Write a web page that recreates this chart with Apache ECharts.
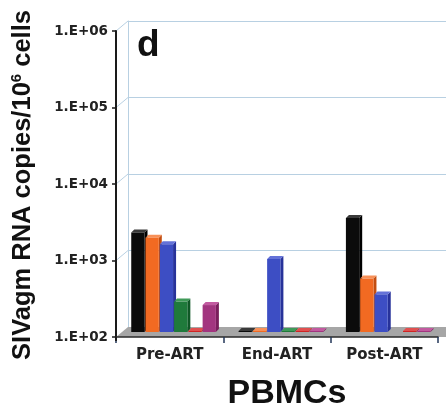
<!DOCTYPE html>
<html>
<head>
<meta charset="utf-8">
<script src="https://cdn.jsdelivr.net/npm/echarts@6/dist/echarts.min.js"></script>
<style>
html,body{margin:0;padding:0;background:#fff;}
#c{width:446px;height:415px;}
</style>
</head>
<body>
<div id="c"></div>
<script>
// ---- data ----
const categories = ['Pre-ART', 'End-ART', 'Post-ART'];
const seriesBlack   = [2000, 100, 3100];
const seriesOrange  = [1700, 100, 500];
const seriesBlue    = [1400, 900, 310];
const seriesGreen   = [250, 100, null];
const seriesRed     = [100, 100, 100];
const seriesMagenta = [225, 100, 100];
const yTickLabels = ['1.E+02', '1.E+03', '1.E+04', '1.E+05', '1.E+06'];
const yMin = 100, yMax = 1000000;

const palette = [
  {front:'#0b0b0b', top:'#3a3a3a', side:'#000000'},
  {front:'#f26a22', top:'#f79058', side:'#c24d10'},
  {front:'#3d4ec4', top:'#6472d8', side:'#27329a'},
  {front:'#1f7a3b', top:'#3f9a58', side:'#0f5826'},
  {front:'#cf2424', top:'#e05050', side:'#a01515'},
  {front:'#a2357f', top:'#c25aa0', side:'#7a1e5c'}
];
const allSeries = [seriesBlack, seriesOrange, seriesBlue, seriesGreen, seriesRed, seriesMagenta];

const chart = echarts.init(document.getElementById('c'));

function makeRender(slot) {
  const col = palette[slot];
  return function (params, api) {
    const cat = api.value(0), v = api.value(1);
    if (v == null || isNaN(v)) return;
    const p0 = api.coord([0, yMin]), p1 = api.coord([1, yMin]);
    const band = p1[0] - p0[0];
    const base = api.coord([cat, yMin]);
    const top = api.coord([cat, v]);
    const depthDx = band * 0.056, depthDy = -5;
    const pitch = band * 0.133;
    const w = pitch * 0.93;
    const d = 3;
    const x0 = base[0] + depthDx + (slot - 3) * pitch - band * 0.015;
    const yBase = base[1] + depthDy;
    let yTop = top[1] + depthDy;
    if (yBase - yTop < 1) yTop = yBase - 1;
    return {
      type: 'group',
      children: [
        {type:'polygon', shape:{points:[[x0+w,yTop],[x0+w+d,yTop-d],[x0+w+d,yBase-d],[x0+w,yBase]]}, style:{fill:col.side}},
        {type:'polygon', shape:{points:[[x0,yTop],[x0+d,yTop-d],[x0+w+d,yTop-d],[x0+w,yTop]]}, style:{fill:col.top}},
        {type:'rect', shape:{x:x0, y:yTop, width:w, height:yBase-yTop}, style:{fill:col.front}}
      ]
    };
  };
}

const labelFmt = function (v) {
  const e = Math.round(Math.log10(v)) - 2;
  return yTickLabels[e] || '';
};

const option = {
  animation: false,
  grid: [
    {left: 116, right: 8, top: 31, bottom: 78},
    {left: 128, right: 0, top: 21, bottom: 88}
  ],
  xAxis: [
    {type:'category', gridIndex:0, data: categories, z: 4,
     axisLine:{show:true, lineStyle:{color:'#2b2b2b', width:1.5}},
     axisTick:{show:true, length:6, lineStyle:{color:'#23375a', width:1.5}},
     axisLabel:{fontFamily:'DejaVu Sans', fontWeight:'bold', fontSize:15, color:'#222', margin:11},
     splitLine:{show:false}},
    {type:'value', gridIndex:1, show:false, min:0, max:1}
  ],
  yAxis: [
    {type:'log', gridIndex:0, logBase:10, min:yMin, max:yMax, interval:1, z: 4,
     axisLine:{show:true, lineStyle:{color:'#1a1a1a', width:2}},
     axisTick:{show:true, length:4, lineStyle:{color:'#1a1a1a', width:1.5}},
     axisLabel:{formatter: labelFmt, fontFamily:'DejaVu Sans', fontWeight:'bold', fontSize:13.5, color:'#222', margin:8},
     splitLine:{show:false}},
    {type:'log', gridIndex:1, logBase:10, min:yMin, max:yMax, interval:1, z: 0,
     axisLine:{show:true, lineStyle:{color:'#b8d0e2', width:1}},
     axisTick:{show:false}, axisLabel:{show:false},
     splitLine:{show:true, lineStyle:{color:'#b8d0e2', width:1}}}
  ],
  series: allSeries.map(function (arr, i) {
    return {
      type: 'custom', xAxisIndex: 0, yAxisIndex: 0, z: 5,
      renderItem: makeRender(i),
      encode: {x: 0, y: 1},
      data: categories.map(function (c, k) { return [k, arr[k] == null ? NaN : arr[k]]; })
    };
  })
};
chart.setOption(option);

// decorations: floor, left-wall connectors, texts
const graphics = [];
const frontLeft = 116, backLeft = 128;
const yF0 = chart.convertToPixel({yAxisIndex:0}, yMin);
const yB0 = chart.convertToPixel({yAxisIndex:1}, yMin);
graphics.push({type:'polygon', z:1, shape:{points:[[frontLeft,yF0],[backLeft,yB0],[446,yB0],[446,yF0]]}, style:{fill:'#a6a6a6'}});
graphics.push({type:'line', z:6, shape:{x1:frontLeft, y1:yF0, x2:frontLeft, y2:yF0+4}, style:{stroke:'#1a1a1a', lineWidth:2}});
for (let e = 3; e <= 6; e++) {
  const v = Math.pow(10, e);
  const yf = chart.convertToPixel({yAxisIndex:0}, v);
  const yb = chart.convertToPixel({yAxisIndex:1}, v);
  graphics.push({type:'line', z:1, shape:{x1:frontLeft, y1:yf, x2:backLeft, y2:yb}, style:{stroke:'#b8d0e2', lineWidth:1}});
}
graphics.push({type:'text', z:10, x:137, y:46, style:{text:'d', font:'bold 37px "Liberation Sans", Arial, sans-serif', fill:'#111', textVerticalAlign:'middle'}});
graphics.push({type:'text', z:10, x:287, y:394, style:{text:'PBMCs', font:'bold 34px "Liberation Sans", Arial, sans-serif', fill:'#111', textAlign:'center', textVerticalAlign:'middle'}});
graphics.push({type:'text', z:10, x:23, y:185, rotation:Math.PI/2,
  style:{text:'{a|SIVagm RNA copies/10}{b|6}{a| cells}', textAlign:'center', textVerticalAlign:'middle',
    rich:{a:{font:'bold 25.5px "Liberation Sans", Arial, sans-serif', fill:'#111', lineHeight:28},
          b:{font:'bold 15px "Liberation Sans", Arial, sans-serif', fill:'#111', lineHeight:28, verticalAlign:'top'}}}});
chart.setOption({graphic: graphics});
</script>
</body>
</html>
